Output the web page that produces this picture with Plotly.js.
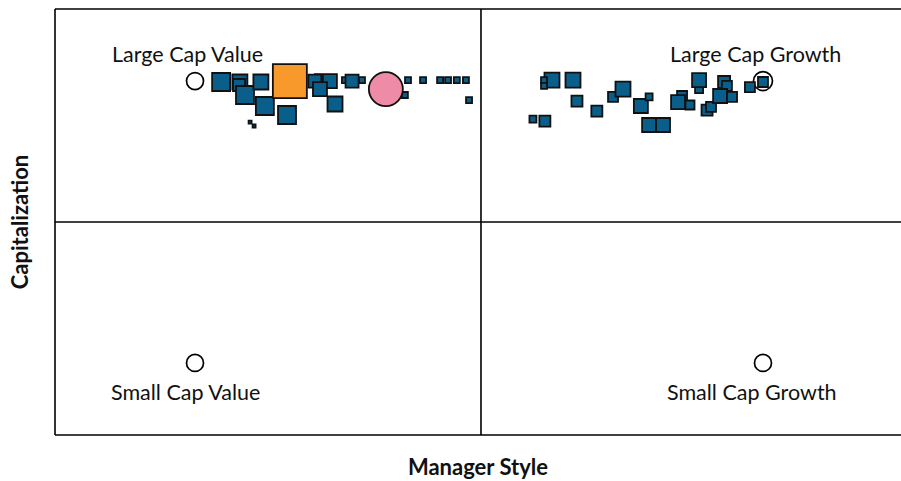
<!DOCTYPE html>
<html>
<head>
<meta charset="utf-8">
<script src="https://cdn.plot.ly/plotly-3.0.1.min.js"></script>
<style>html,body{margin:0;padding:0;background:#fff;}#chart{width:901px;height:481px;}</style>
</head>
<body>
<div id="chart"></div>
<script>
// Style-box benchmark corners
const benchLabels = ["Large Cap Value", "Large Cap Growth", "Small Cap Value", "Small Cap Growth"];
const benchX = [-1.007, 0.993, -1.007, 0.993];
const benchY = [1.0, 1.0, -1.0, -1.0];

// Manager style points (style score x, capitalization score y, relative asset weight)
const fundX = [-0.915, -0.849, -0.852, -0.831, -0.775, -0.761, -0.683, -0.813, -0.799,
  -0.574, -0.585, -0.532, -0.567, -0.514, -0.479, -0.419, -0.454,
  -0.257, -0.204, -0.144, -0.116, -0.085, -0.053, -0.268, -0.042,
  0.250, 0.222, 0.222, 0.324, 0.338, 0.408, 0.183, 0.225,
  0.465, 0.500, 0.563, 0.592, 0.592, 0.641, 0.708, 0.694, 0.736, 0.768, 0.768,
  0.796, 0.810, 0.856, 0.866, 0.842, 0.884, 0.947, 0.993];
const fundY = [0.993, 0.993, 0.972, 0.901, 0.993, 0.823, 0.759, 0.709, 0.681,
  1.028, 1.000, 1.000, 0.943, 0.837, 1.007, 1.007, 1.000,
  1.007, 1.007, 1.007, 1.007, 1.007, 1.007, 0.901, 0.865,
  1.007, 1.007, 0.965, 1.007, 0.858, 0.787, 0.730, 0.716,
  0.887, 0.943, 0.823, 0.887, 0.688, 0.688, 0.894, 0.851, 0.830, 0.943, 1.007,
  0.794, 0.816, 0.993, 0.965, 0.894, 0.887, 0.957, 0.993];
const fundWeight = [18, 15, 12, 18, 15, 18, 18, 3, 3,
  6, 13, 14, 14, 15, 6, 6, 13,
  6, 6, 6, 6, 6, 6, 6, 6,
  15, 6, 6, 15, 11, 11, 7, 11,
  10, 15, 14, 7, 14, 14, 10, 14, 9, 8, 14,
  11, 10, 12, 10, 14, 10, 10, 10];

// Highlighted portfolio and benchmark
const portfolioX = [-0.673];
const portfolioY = [1.0];
const portfolioWeight = [34];
const indexX = [-0.335];
const indexY = [0.943];
const indexWeight = [34];

// Corner label anchor points
const labelX = [-1.032, 0.965, -1.042, 0.954];
const labelY = [1.191, 1.191, -1.206, -1.206];

const FONT = "Lato, 'Open Sans', sans-serif";

const traces = [
  {
    type: "scatter", mode: "markers", x: benchX, y: benchY, hoverinfo: "skip",
    marker: {symbol: "circle", size: [17, 19, 17, 17], opacity: 1, color: "#ffffff", line: {color: "#000000", width: 1.7}}
  },
  {
    type: "scatter", mode: "markers", x: fundX, y: fundY,
    marker: {symbol: "square", size: fundWeight, opacity: 1, color: "#0a5f8a", line: {color: "#111111", width: 1.8}}
  },
  {
    type: "scatter", mode: "markers", x: portfolioX, y: portfolioY,
    marker: {symbol: "square", size: portfolioWeight, opacity: 1, color: "#f7992b", line: {color: "#111111", width: 1.8}}
  },
  {
    type: "scatter", mode: "markers", x: indexX, y: indexY,
    marker: {symbol: "circle", size: indexWeight, opacity: 1, color: "#ee8ca8", line: {color: "#111111", width: 1.8}}
  }
];

const annotations = benchLabels.map((t, i) => ({
  x: labelX[i], y: labelY[i], xref: "x", yref: "y", text: t, showarrow: false,
  font: {family: FONT, size: 21.5, color: "#111111"}, xanchor: "center", yanchor: "middle"
}));

const shapes = [
  {type: "line", xref: "paper", yref: "paper", x0: 0, x1: 0, y0: 0, y1: 1, line: {color: "#000", width: 1.6}},
  {type: "line", xref: "paper", yref: "paper", x0: 0, x1: 1, y0: 1, y1: 1, line: {color: "#000", width: 1.6}},
  {type: "line", xref: "paper", yref: "paper", x0: 0, x1: 1, y0: 0, y1: 0, line: {color: "#000", width: 1.6}},
  {type: "line", xref: "x", yref: "paper", x0: 0, x1: 0, y0: 0, y1: 1, line: {color: "#000", width: 1.6}},
  {type: "line", xref: "paper", yref: "y", x0: 0, x1: 1, y0: 0, y1: 0, line: {color: "#000", width: 1.6}}
];

const layout = {
  width: 901, height: 481,
  margin: {l: 55, r: 0, t: 9, b: 46},
  paper_bgcolor: "#ffffff", plot_bgcolor: "#ffffff",
  showlegend: false,
  xaxis: {range: [-1.5, 1.479], showgrid: false, zeroline: false, showticklabels: false, ticks: "",
    showline: false, fixedrange: true,
    title: {text: "<b>Manager Style</b>", font: {family: FONT, size: 22, color: "#111"}, standoff: 24}},
  yaxis: {range: [-1.511, 1.511], showgrid: false, zeroline: false, showticklabels: false, ticks: "",
    showline: false, fixedrange: true,
    title: {text: "<b>Capitalization</b>", font: {family: FONT, size: 22, color: "#111"}, standoff: 19}},
  annotations: annotations,
  shapes: shapes
};

Plotly.newPlot("chart", traces, layout, {displayModeBar: false, staticPlot: true});
</script>
</body>
</html>
